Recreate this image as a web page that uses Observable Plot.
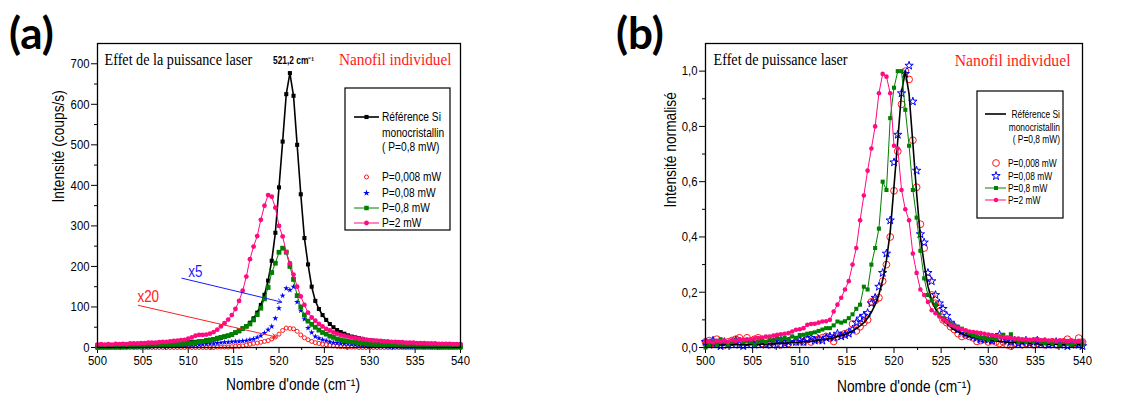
<!DOCTYPE html>
<html><head><meta charset="utf-8">
<script src="https://cdn.jsdelivr.net/npm/d3@7"></script>
<script src="https://cdn.jsdelivr.net/npm/@observablehq/plot@0.6"></script>
<style>
body{margin:0;background:#fff;}
#wrap{position:relative;width:1141px;height:395px;overflow:hidden;background:#fff;}
.panel{position:absolute;top:0;}
#overlay{position:absolute;left:0;top:0;pointer-events:none;}
</style></head><body><div id="wrap"><div class="panel" id="pa" style="left:0"></div><div class="panel" id="pb" style="left:570px"></div></div>
<script>
// ---------- data ----------
const wavenumber = [
500,500.4,500.8,501.2,501.6,502,502.4,502.8,503.2,503.6,
504,504.4,504.8,505.2,505.6,506,506.4,506.8,507.2,507.6,
508,508.4,508.8,509.2,509.6,510,510.4,510.8,511.2,511.6,
512,512.4,512.8,513.2,513.6,514,514.4,514.8,515.2,515.6,
516,516.4,516.8,517.2,517.6,518,518.4,518.8,519.2,519.6,
520,520.4,520.8,521.2,521.6,522,522.4,522.8,523.2,523.6,
524,524.4,524.8,525.2,525.6,526,526.4,526.8,527.2,527.6,
528,528.4,528.8,529.2,529.6,530,530.4,530.8,531.2,531.6,
532,532.4,532.8,533.2,533.6,534,534.4,534.8,535.2,535.6,
536,536.4,536.8,537.2,537.6,538,538.4,538.8,539.2,539.6,
540];

// panel (a): intensity (coups/s)
const refSiA = [
6,6,6,6,6,6,7,7,7,7, 7,7,8,8,8,8,9,9,9,10, 10,11,11,12,12,13,14,14,15,16,
18,19,20,22,24,27,29,32,36,40, 46,53,61,72,86,105,130,165,214,283,
395,508,625,677,621,500,378,270,205,150, 115,95,80,68,58,50,43,38,34,30,
27,25,23,21,19,18,17,16,15,14, 13,13,12,12,11,11,10,10,9,9, 9,8,8,8,8,7,7,7,7,7, 6];
const p2A = [
7,8,7,8,7,9,8,9,8,10, 10,10,11,11,12,12,12,13,14,14, 15,16,17,18,19,22,25,29,31,31,
32,34,38,44,52,60,69,80,95,115, 140,175,218,249,275,315,350,376,372,345,
300,274,236,208,180,150,126,105,86,74, 66,58,52,46,42,37,34,31,29,27,
25,23,22,21,19,18,17,17,16,15, 15,14,14,13,13,12,12,12,11,11, 11,10,10,10,9,9,9,9,8,8, 8];
const p08A = [
1,1,2,1,2,2,2,2,2,3, 3,3,3,4,4,4,5,5,6,6, 7,7,8,8,9,10,11,12,14,15,
17,18,20,23,25,27,29,32,37,42, 47,52,58,68,81,97,120,148,185,208,
235,245,235,200,168,128,100,80,65,57, 50,43,37,33,28,25,21,19,17,15,
14,13,12,11,9,8,8,7,7,6, 6,5,5,5,4,4,4,4,3,3, 3,3,3,2,2,2,2,2,2,2, 2];
const p008A = [
0,1,0,1,1,0,1,1,1,2, 1,2,2,2,2,3,3,3,3,4, 4,4,5,5,5,6,6,7,7,8,
9,10,10,11,12,13,13,14,15,15, 16,17,19,21,25,29,36,44,52,72,
97,128,146,142,150,112,91,70,48,37, 27,23,19,17,14,12,11,10,9,9,
8,7,6,5,5,4,4,3,3,3, 2,2,2,2,1,1,1,1,1,1, 0,1,0,1,0,0,1,0,0,1, 0];
const p0008A = [
0,0,0,0,0,0,0,0,0,0, 0,0,0,0,0,0,0,0,0,0, 0,0,0,0,0,0,0,0,0,0,
0,0,0,1,1,1,1,2,3,3, 4,6,8,10,11,13,15,17,21,26,
33,42,48,47,46,40,31,24,19,15, 12,10,8,7,5,4,3,2,2,1,
1,1,0,0,0,0,0,0,0,0, 0,0,0,0,0,0,0,0,0,0, 0,0,0,0,0,0,0,0,0,0, 0];

// panel (b): normalised intensity
const refSiB = [
.009,.009,.009,.009,.009,.009,.010,.010,.010,.010, .010,.010,.012,.012,.012,.012,.013,.013,.013,.015,
.015,.016,.016,.018,.018,.019,.021,.021,.022,.024, .027,.028,.030,.032,.035,.040,.043,.047,.053,.059,
.068,.078,.090,.106,.127,.155,.192,.244,.316,.418, .583,.750,.923,1.0,.917,.739,.558,.399,.303,.222,
.170,.140,.118,.100,.086,.074,.064,.056,.050,.044, .040,.037,.034,.031,.028,.027,.025,.024,.022,.021,
.019,.019,.018,.018,.016,.016,.015,.015,.013,.013, .013,.012,.012,.012,.012,.010,.010,.010,.010,.010, .009];
const p0008B = [
.02,.025,.015,.03,.02,.01,.02,.025,.03,.035, .02,.035,.02,.03,.035,.015,.02,.01,.02,.025,
.01,.02,.015,.03,.02,.025,.02,.03,.02,.04, .03,.035,.04,.035,.022,.04,.045,.05,.055,.085,
.06,.075,.09,.10,.165,.17,.18,.24,.30,.40, .567,.71,.88,1.0,.97,.75,.58,.446,.36,.25,
.19,.16,.13,.10,.09,.075,.065,.05,.04,.045, .04,.035,.022,.025,.03,.02,.025,.02,.015,.02,
.01,.005,.015,.02,.01,.015,.02,.01,.015,.02, .01,.015,.02,.01,.015,.02,.03,.02,.015,.034, .02];
const p008B = [
.02,.01,.025,.015,.005,.02,.01,.015,.025,.01, .005,.015,.02,.01,.015,.02,.01,.015,.02,.01,
.025,.015,.02,.03,.02,.025,.02,.03,.035,.025, .03,.025,.035,.04,.035,.05,.04,.045,.05,.065,
.09,.105,.115,.125,.16,.18,.22,.27,.34,.46, .67,.77,.92,.99,1.02,.89,.64,.41,.38,.27,
.24,.19,.16,.14,.115,.09,.076,.065,.058,.05, .046,.04,.035,.03,.03,.028,.025,.035,.046,.03,
.025,.02,.025,.015,.02,.025,.015,.02,.025,.015, .02,.01,.015,.02,.01,.015,.005,.01,.015,.01, .005];
const p08B = [
0,.01,.02,.01,.03,.02,.01,.02,.025,.03, .02,.025,.02,.01,.02,.025,.02,.03,.025,.035,
.03,.035,.03,.04,.035,.045,.046,.05,.052,.055, .06,.065,.07,.07,.08,.094,.09,.095,.106,.12,
.14,.155,.22,.21,.30,.36,.43,.60,.57,.83, .94,1.0,1.0,.86,.73,.57,.47,.35,.25,.19,
.17,.155,.12,.105,.095,.088,.08,.075,.068,.06, .052,.045,.04,.036,.034,.03,.035,.03,.04,.046,
.035,.048,.03,.02,.025,.02,.025,.02,.03,.02, .015,.02,.015,.02,.01,.02,.015,.01,.015,.02, .01];
const p2B = [
.02,.022,.018,.024,.022,.025,.02,.026,.024,.028, .028,.03,.03,.032,.034,.036,.04,.04,.043,.046,
.048,.05,.052,.058,.064,.066,.07,.082,.085,.086, .09,.094,.095,.10,.13,.155,.18,.21,.24,.30,
.36,.46,.55,.64,.72,.80,.92,.99,.98,.92, .73,.72,.57,.50,.46,.34,.27,.21,.19,.165,
.135,.124,.112,.10,.092,.082,.076,.07,.066,.062, .058,.056,.054,.052,.05,.047,.045,.042,.04,.038,
.036,.034,.032,.032,.03,.03,.028,.03,.028,.026, .028,.025,.026,.024,.026,.025,.023,.025,.022,.024, .022];

// ticks
const xTicks = [500,505,510,515,520,525,530,535,540];
const xMinor = [502.5,507.5,512.5,517.5,522.5,527.5,532.5,537.5];
const yTicksA = [0,100,200,300,400,500,600,700];
const yMinorA = [50,150,250,350,450,550,650];
const yTicksB = [0,0.2,0.4,0.6,0.8,1.0];
const yTickLabelsB = ["0,0","0,2","0,4","0,6","0,8","1,0"];
const yMinorB = [0.1,0.3,0.5,0.7,0.9];

// texts
const legendLabels = ["Référence Si","monocristallin","( P=0,8 mW)","P=0,008 mW","P=0,08 mW","P=0,8 mW","P=2 mW"];
const titleA = "Effet de la puissance laser";
const titleB = "Effet de puissance laser";
const sampleLabel = "Nanofil individuel";
const xLabel = "Nombre d'onde (cm⁻¹)";
const yLabelA = "Intensité (coups/s)";
const yLabelB = "Intensité normalisé";
const peakLabel = [{w:521.6, v:707, t:"521,2 cm⁻¹"}];
const factorLabels = [{w:510.0, v:186, t:"x5", c:"#1a1aff"},{w:504.4, v:126, t:"x20", c:"#ff2020"}];
const factorArrows = [{x1:509.3,y1:171,x2:520.3,y2:112,c:"#1a1aff"},{x1:504.5,y1:104,x2:519.7,y2:26,c:"#ff2020"}];

// ---------- chart ----------
const SANS = '"Liberation Sans",Arial,sans-serif';
const SERIF = '"Liberation Serif","Times New Roman",serif';
const BLACK="#000", RED="#ff1a1a", BLUE="#0000ff", GREEN="#008000", PINK="#ff0a80";
const rows = arr => wavenumber.map((w,i)=>({w, v: arr[i]}));
const labB = new Map(yTicksB.map((t,i)=>[t, yTickLabelsB[i]]));

function axes(yT, yM, yFmt){
  return [
    Plot.axisX({ticks:xTicks, tickSize:6, tickPadding:2, label:null, fontSize:13.5}),
    Plot.axisX({ticks:xMinor, tickSize:3, tickFormat:()=>"", label:null}),
    Plot.axisY({ticks:yT, tickSize:6, tickPadding:2, label:null, fontSize:13.5, tickFormat:yFmt}),
    Plot.axisY({ticks:yM, tickSize:3, tickFormat:()=>"", label:null})
  ];
}

const chartA = Plot.plot({
  width:570, height:395, marginLeft:97, marginRight:110, marginTop:43, marginBottom:48,
  style:{fontFamily:SANS, fontSize:"13.5px", color:"#000", background:"transparent"},
  x:{domain:[500,540]}, y:{domain:[0,750]},
  marks:[
    ...axes(yTicksA, yMinorA, d=>String(d)),
    Plot.line(rows(refSiA), {x:"w", y:"v", stroke:BLACK, strokeWidth:1.6}),
    Plot.dot(rows(refSiA), {x:"w", y:"v", symbol:"square", r:2.3, fill:BLACK, stroke:null}),
    Plot.dot(rows(p0008A), {x:"w", y:"v", r:2, stroke:RED, fill:"none", strokeWidth:1}),
    Plot.dot(rows(p008A), {x:"w", y:"v", symbol:"star", r:1.9, fill:BLUE, stroke:null}),
    Plot.line(rows(p08A), {x:"w", y:"v", stroke:GREEN, strokeWidth:1}),
    Plot.dot(rows(p08A), {x:"w", y:"v", symbol:"square", r:2.7, fill:GREEN, stroke:null}),
    Plot.line(rows(p2A), {x:"w", y:"v", stroke:PINK, strokeWidth:1}),
    Plot.dot(rows(p2A), {x:"w", y:"v", r:2.4, fill:PINK, stroke:null}),
    Plot.arrow(factorArrows.slice(0,1), {x1:"x1", y1:"y1", x2:"x2", y2:"y2", stroke:factorArrows[0].c, strokeWidth:1, headLength:7}),
    Plot.arrow(factorArrows.slice(1,2), {x1:"x1", y1:"y1", x2:"x2", y2:"y2", stroke:factorArrows[1].c, strokeWidth:1, headLength:7}),
    Plot.text(factorLabels.slice(0,1), {x:"w", y:"v", text:"t", fill:factorLabels[0].c, fontSize:16, textAnchor:"start"}),
    Plot.text(factorLabels.slice(1,2), {x:"w", y:"v", text:"t", fill:factorLabels[1].c, fontSize:16, textAnchor:"start"}),
    Plot.text(peakLabel, {x:"w", y:"v", text:"t", fontSize:10, fontWeight:"bold"}),
    Plot.text([titleA], {text:d=>d, frameAnchor:"top-left", dx:7, dy:16, textAnchor:"start", lineAnchor:"middle", fontFamily:SERIF, fontSize:16.5}),
    Plot.text([sampleLabel], {text:d=>d, frameAnchor:"top-right", dx:-9, dy:16, textAnchor:"end", lineAnchor:"middle", fontFamily:SERIF, fontSize:17, fill:RED}),
    Plot.text([xLabel], {text:d=>d, frameAnchor:"bottom", dx:14, dy:37, lineAnchor:"middle", fontSize:16}),
    Plot.text([yLabelA], {text:d=>d, frameAnchor:"left", dx:-39, dy:7, rotate:-90, lineAnchor:"middle", fontSize:16}),
    Plot.frame({stroke:BLACK, strokeWidth:1.3})
  ]
});
document.getElementById("pa").appendChild(chartA);

const chartB = Plot.plot({
  width:571, height:395, marginLeft:135, marginRight:59, marginTop:43, marginBottom:48,
  style:{fontFamily:SANS, fontSize:"13.5px", color:"#000", background:"transparent"},
  x:{domain:[500,540]}, y:{domain:[0,1.1]},
  marks:[
    ...axes(yTicksB, yMinorB, d=>labB.get(d)),
    Plot.dot(rows(p0008B), {x:"w", y:"v", r:3.4, stroke:RED, fill:"none", strokeWidth:1}),
    Plot.dot(rows(p008B), {x:"w", y:"v", symbol:"star", r:2.6, stroke:BLUE, fill:"none", strokeWidth:1}),
    Plot.line(rows(refSiB), {x:"w", y:"v", stroke:BLACK, strokeWidth:1.6}),
    Plot.line(rows(p08B), {x:"w", y:"v", stroke:GREEN, strokeWidth:1}),
    Plot.dot(rows(p08B), {x:"w", y:"v", symbol:"square", r:2.3, fill:GREEN, stroke:null}),
    Plot.line(rows(p2B), {x:"w", y:"v", stroke:PINK, strokeWidth:1}),
    Plot.dot(rows(p2B), {x:"w", y:"v", r:2.3, fill:PINK, stroke:null}),
    Plot.text([titleB], {text:d=>d, frameAnchor:"top-left", dx:8, dy:16, textAnchor:"start", lineAnchor:"middle", fontFamily:SERIF, fontSize:16.5}),
    Plot.text([sampleLabel], {text:d=>d, frameAnchor:"top-right", dx:-12, dy:17, textAnchor:"end", lineAnchor:"middle", fontFamily:SERIF, fontSize:17.5, fill:RED}),
    Plot.text([xLabel], {text:d=>d, frameAnchor:"bottom", dx:10, dy:39, lineAnchor:"middle", fontSize:16}),
    Plot.text([yLabelB], {text:d=>d, frameAnchor:"left", dx:-35, dy:12, rotate:-90, lineAnchor:"middle", fontSize:16}),
    Plot.frame({stroke:BLACK, strokeWidth:1.3})
  ]
});
document.getElementById("pb").appendChild(chartB);

// ---------- overlay: panel letters and legends ----------
const ov = d3.select("#wrap").append("svg").attr("id","overlay").attr("width",1141).attr("height",395);
ov.append("text").attr("x",9).attr("y",49).attr("font-family","Lato,'Open Sans',sans-serif").attr("font-weight",700).attr("font-size",44).attr("class","letter").text("(a)");
ov.append("text").attr("x",616).attr("y",49).attr("font-family","Lato,'Open Sans',sans-serif").attr("font-weight",700).attr("font-size",44).attr("class","letter").text("(b)");

function sym(g, kind, cx, cy, size, fill, stroke){
  const t = kind==="square"?d3.symbolSquare:kind==="star"?d3.symbolStar:d3.symbolCircle;
  g.append("path").attr("d", d3.symbol(t, size)()).attr("transform",`translate(${cx},${cy})`)
   .attr("fill",fill).attr("stroke",stroke||"none").attr("stroke-width",1);
}
function seg(g, x1, x2, y, color, w){
  g.append("line").attr("x1",x1).attr("x2",x2).attr("y1",y).attr("y2",y).attr("stroke",color).attr("stroke-width",w);
}
// legend (a)
{
  const g = ov.append("g").attr("font-family",SANS).attr("font-size",12);
  g.append("rect").attr("x",345).attr("y",88).attr("width",105).attr("height",142).attr("fill","#fff").attr("stroke","#000").attr("stroke-width",1.2);
  const ys=[117,133,147,177,193,208,223];
  legendLabels.forEach((t,i)=>g.append("text").attr("class","legA").attr("x",382).attr("y",ys[i]).attr("dy","0.35em").text(t));
  seg(g,354,379,ys[0],BLACK,1.6); sym(g,"square",366.5,ys[0],17,BLACK);
  sym(g,"circle",366.5,ys[3],13,"none",RED);
  sym(g,"star",366.5,ys[4],14,BLUE);
  seg(g,354,379,ys[5],GREEN,1); sym(g,"square",366.5,ys[5],20,GREEN);
  seg(g,354,379,ys[6],PINK,1); sym(g,"circle",366.5,ys[6],18,PINK);
}
// legend (b)
{
  const g = ov.append("g").attr("font-family",SANS).attr("font-size",10.5);
  g.append("rect").attr("x",977).attr("y",91).attr("width",86).attr("height",127).attr("fill","#fff").attr("stroke","#000").attr("stroke-width",1.2);
  const ys=[114,127,139,163,176,188,200];
  legendLabels.slice(0,3).forEach((t,i)=>g.append("text").attr("class","legB").attr("x",1060).attr("y",ys[i]).attr("dy","0.35em").attr("text-anchor","end").text(t));
  legendLabels.slice(3).forEach((t,i)=>g.append("text").attr("class","legB").attr("x",1008).attr("y",ys[i+3]).attr("dy","0.35em").text(t));
  seg(g,985,1006,ys[0],BLACK,1.6);
  sym(g,"circle",996,ys[3],36,"none",RED);
  sym(g,"star",996,ys[4],22,"none",BLUE);
  seg(g,985,1006,ys[5],GREEN,1); sym(g,"square",996,ys[5],16,GREEN);
  seg(g,985,1006,ys[6],PINK,1); sym(g,"circle",996,ys[6],16,PINK);
}

// ---------- narrow the sans-serif text (original uses a condensed face) ----------
function factorFor(el){
  const t = el.textContent;
  if (el.classList.contains("letter")) return 0;
  if (el.classList.contains("legB")) return 0.8;
  if (el.classList.contains("legA")) return 0.85;
  if (t===titleA || t===titleB) return 0.86;
  if (t===sampleLabel) return 0.9;
  if (t===xLabel || t===yLabelA || t===yLabelB) return 0.86;
  return 0.84;
}
document.querySelectorAll("#wrap svg text").forEach(el=>{
  const f = factorFor(el); if (!f) return;
  const x = parseFloat(el.getAttribute("x"))||0;
  const T = el.getAttribute("transform")||"";
  el.setAttribute("transform", `${T} translate(${x},0) scale(${f},1) translate(${-x},0)`);
});
</script></body></html>
